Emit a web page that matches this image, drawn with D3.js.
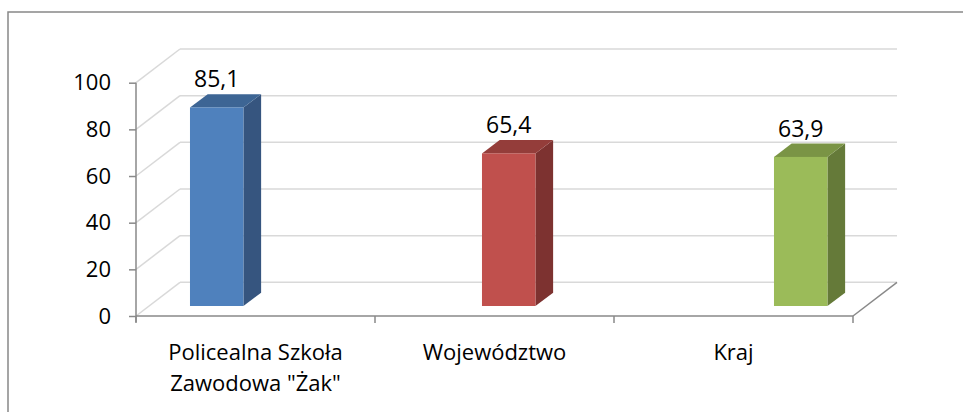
<!DOCTYPE html>
<html>
<head>
<meta charset="utf-8">
<script src="https://cdn.jsdelivr.net/npm/d3@7"></script>
<style>
  body { margin: 0; background: #fff; }
  svg { display: block; font-family: "Open Sans", sans-serif; }
</style>
</head>
<body>
<div id="chart"></div>
<script>
// chart data
var categories = ["Policealna Szkoła\nZawodowa \"Żak\"", "Województwo", "Kraj"];
var values = [85.1, 65.4, 63.9];
var valueLabels = ["85,1", "65,4", "63,9"];
var yTicks = [0, 20, 40, 60, 80, 100];
var frontColors = ["#4F81BD", "#C0504D", "#9BBB59"];
var sideColors = ["#36557F", "#7D3230", "#657A39"];
var topColors = ["#3D6594", "#943D3A", "#7A9445"];

var width = 963, height = 412;
var wallDx = 44, wallDy = 33.7;      // depth of the 3d box
var barDx = 17.7, barDy = 13.3;      // depth of one column
var barShiftY = 10;                  // columns stand a bit behind the front edge
var gridColor = "#D9D9D9", axisColor = "#898989";

var svg = d3.select("#chart").append("svg")
    .attr("width", width).attr("height", height);

// outer frame (runs off the right and bottom edge)
svg.append("rect")
    .attr("x", 8).attr("y", 12)
    .attr("width", 970).attr("height", 420)
    .attr("fill", "none").attr("stroke", "#888").attr("stroke-width", 1.5);

var y = d3.scaleLinear().domain([0, 100]).range([316, 82.7]);

// axis categories (front floor edge)
var x = d3.scaleBand().domain(categories).range([136, 853]);
// columns are placed by their own band scale (perspective shift)
var xBar = d3.scaleBand().domain(categories).range([70.7, 946.7]).paddingInner(0.817).paddingOuter(0.4085);

var floorRight = x.range()[1];

// back wall grid lines and left wall diagonals
var grid = svg.append("g").attr("class", "grid");
grid.selectAll("line.back")
    .data(yTicks)
    .enter().append("line")
        .attr("class", "back")
        .attr("x1", x.range()[0] + wallDx).attr("x2", floorRight + wallDx)
        .attr("y1", function(d) { return y(d) - wallDy; })
        .attr("y2", function(d) { return y(d) - wallDy; })
        .attr("stroke", gridColor).attr("stroke-width", 1.5);
grid.selectAll("line.side")
    .data(yTicks)
    .enter().append("line")
        .attr("class", "side")
        .attr("x1", x.range()[0]).attr("x2", x.range()[0] + wallDx)
        .attr("y1", function(d) { return y(d); })
        .attr("y2", function(d) { return y(d) - wallDy; })
        .attr("stroke", gridColor).attr("stroke-width", 1.5);

// floor: right diagonal edge
svg.append("line")
    .attr("x1", floorRight).attr("y1", y(0))
    .attr("x2", floorRight + wallDx).attr("y2", y(0) - wallDy)
    .attr("stroke", axisColor).attr("stroke-width", 1.5);

// y axis
var yaxis = svg.append("g")
    .attr("class", "y-axis")
    .attr("transform", "translate(" + x.range()[0] + ",0)")
    .call(d3.axisLeft(y).tickValues(yTicks).tickSizeInner(7).tickSizeOuter(0).tickPadding(18));
yaxis.select(".domain").attr("stroke", axisColor).attr("stroke-width", 1.5)
    .attr("d", "M0," + y(100) + "V" + (y(0) + 6));
yaxis.selectAll(".tick line").attr("stroke", axisColor).attr("stroke-width", 1.5);
yaxis.selectAll("text").attr("font-size", "22px").attr("fill", "#000")
    .attr("font-family", "Open Sans, sans-serif");

// x axis (front floor edge)
var xaxis = svg.append("g")
    .attr("class", "x-axis")
    .attr("transform", "translate(0," + y(0) + ")");
xaxis.append("line")
    .attr("x1", x.range()[0]).attr("x2", floorRight)
    .attr("stroke", axisColor).attr("stroke-width", 1.5);
xaxis.selectAll("line.tick")
    .data(categories.map(function(c) { return x(c); }).concat([floorRight]))
    .enter().append("line")
        .attr("class", "tick")
        .attr("x1", function(d) { return d; }).attr("x2", function(d) { return d; })
        .attr("y1", 0).attr("y2", 7)
        .attr("stroke", axisColor).attr("stroke-width", 1.5);
var xlabels = xaxis.selectAll("text")
    .data(categories)
    .enter().append("text")
        .attr("text-anchor", "middle")
        .attr("font-size", "22px")
        .attr("fill", "#000")
        .attr("x", function(d) { return x(d) + x.bandwidth() / 2; })
        .attr("y", 44);
xlabels.each(function(d) {
    var t = d3.select(this);
    d.split("\n").forEach(function(line, i) {
        t.append("tspan")
            .attr("x", t.attr("x"))
            .attr("dy", i == 0 ? 0 : 31)
            .text(line);
    });
});

// 3d columns
var bars = svg.selectAll("g.bar")
    .data(categories)
    .enter().append("g")
        .attr("class", "bar");

function barGeom(c, i) {
    var x0 = xBar(c), x1 = xBar(c) + xBar.bandwidth();
    var yb = y(0) - barShiftY, yt = y(values[i]) - barShiftY;
    return {x0: x0, x1: x1, yb: yb, yt: yt};
}

bars.append("path")
    .attr("fill", function(d, i) { return sideColors[i]; })
    .attr("d", function(d, i) {
        var g = barGeom(d, i);
        return "M" + g.x1 + "," + g.yt + "L" + (g.x1 + barDx) + "," + (g.yt - barDy) +
            "L" + (g.x1 + barDx) + "," + (g.yb - barDy) + "L" + g.x1 + "," + g.yb + "Z";
    });
bars.append("path")
    .attr("fill", function(d, i) { return topColors[i]; })
    .attr("d", function(d, i) {
        var g = barGeom(d, i);
        return "M" + g.x0 + "," + g.yt + "L" + (g.x0 + barDx) + "," + (g.yt - barDy) +
            "L" + (g.x1 + barDx) + "," + (g.yt - barDy) + "L" + g.x1 + "," + g.yt + "Z";
    });
bars.append("rect")
    .attr("fill", function(d, i) { return frontColors[i]; })
    .attr("x", function(d, i) { return barGeom(d, i).x0; })
    .attr("y", function(d, i) { return barGeom(d, i).yt; })
    .attr("width", xBar.bandwidth())
    .attr("height", function(d, i) { var g = barGeom(d, i); return g.yb - g.yt; });

// value labels
bars.append("text")
    .attr("text-anchor", "middle")
    .attr("font-size", "23px")
    .attr("fill", "#000")
    .attr("x", function(d) { return xBar(d) + xBar.bandwidth() / 2; })
    .attr("y", function(d, i) { return barGeom(d, i).yt - barDy - 7; })
    .text(function(d, i) { return valueLabels[i]; });
</script>
</body>
</html>
